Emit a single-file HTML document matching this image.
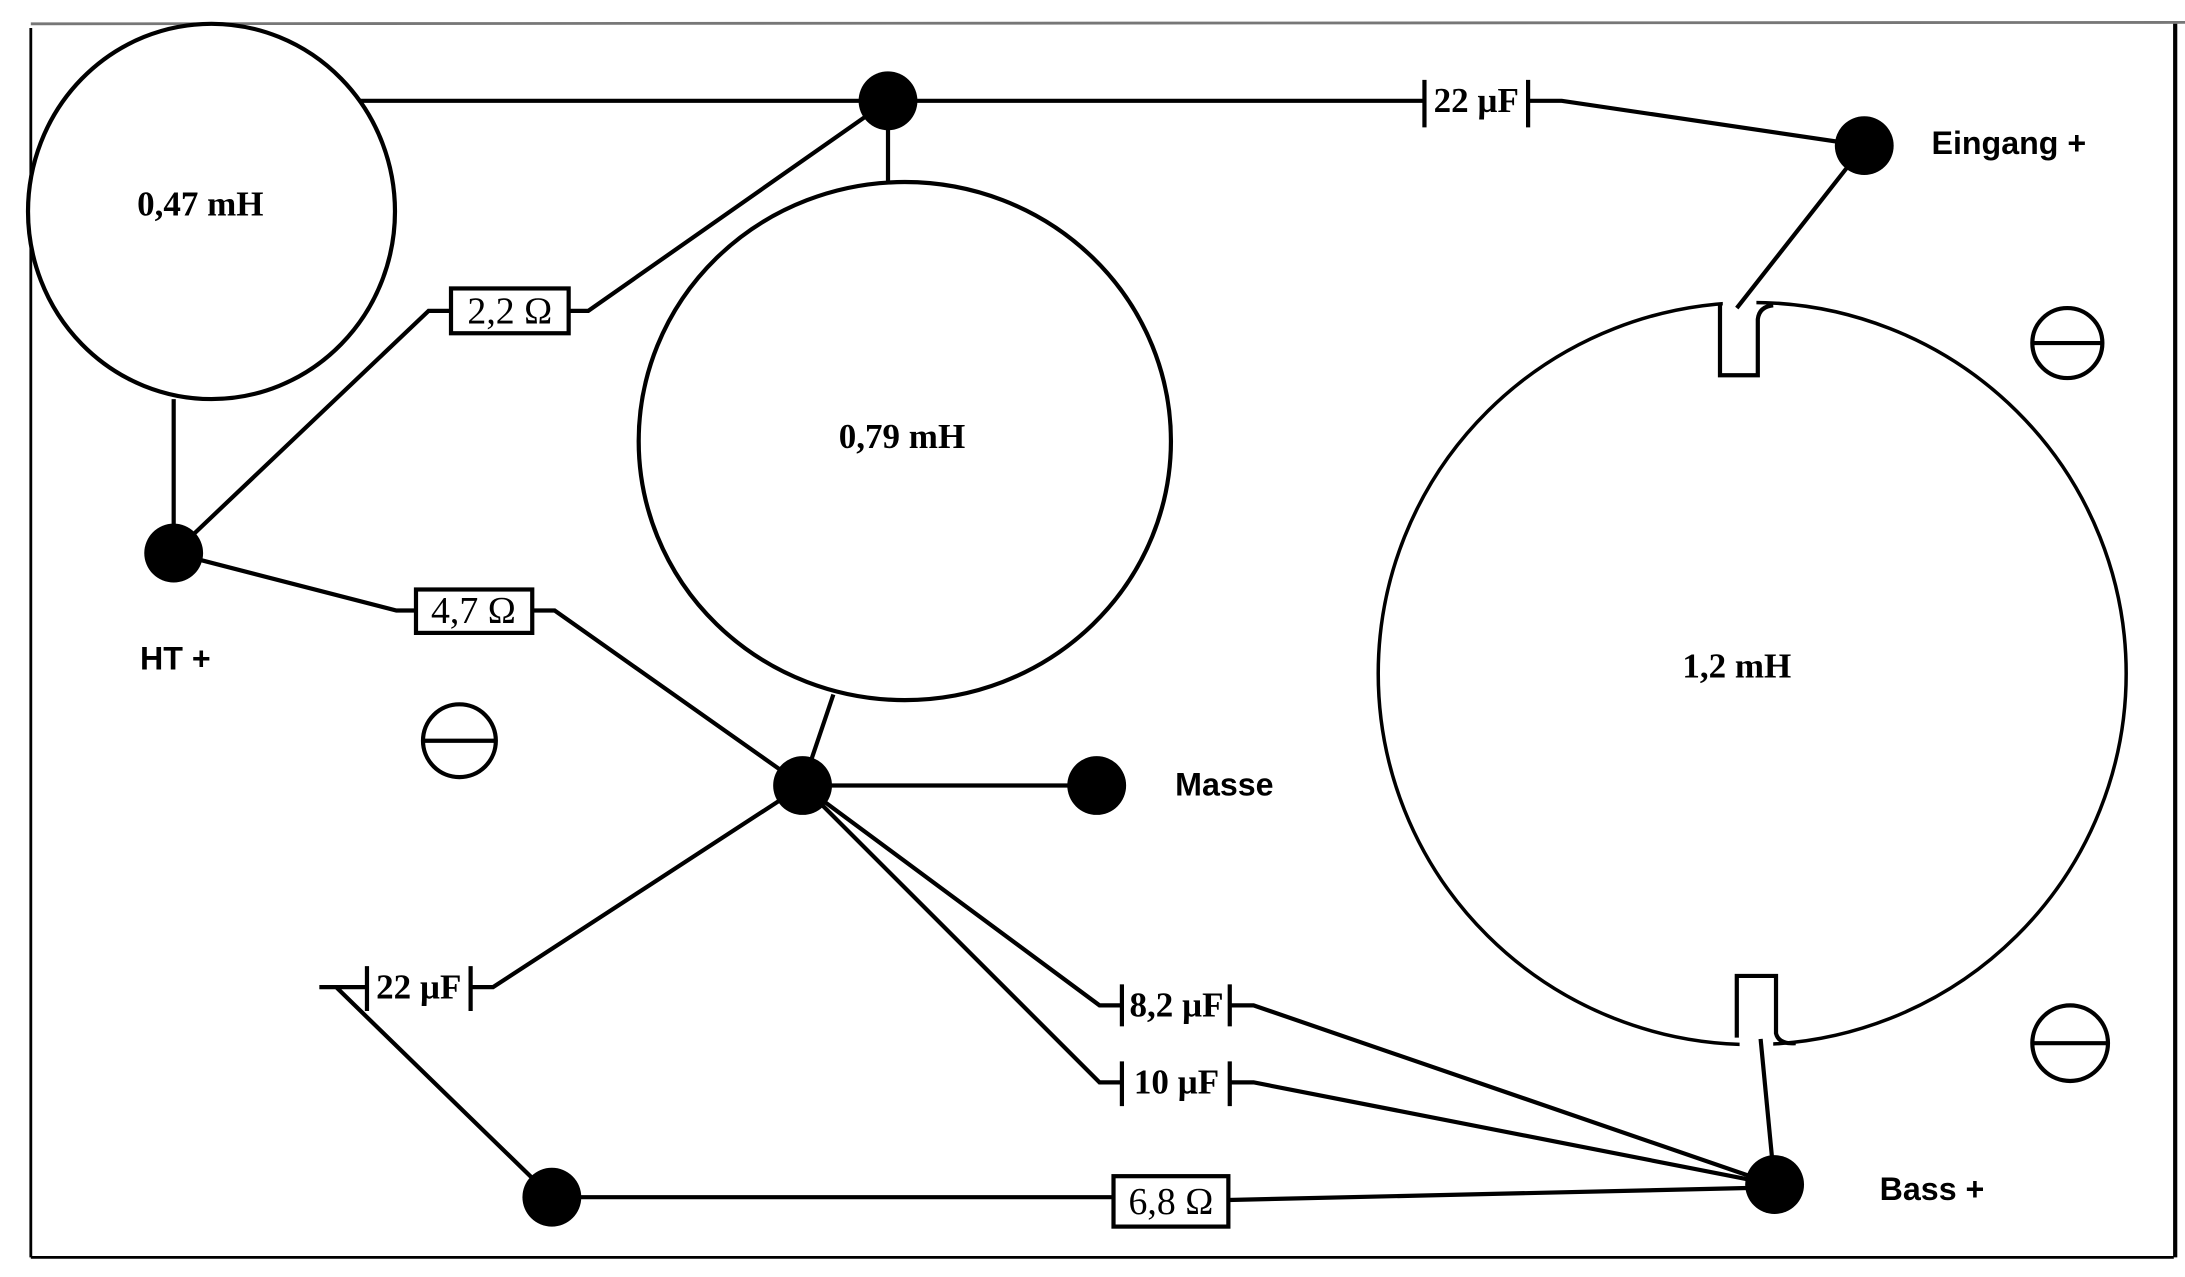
<!DOCTYPE html>
<html><head><meta charset="utf-8"><style>html,body{margin:0;padding:0;background:#fff}svg{display:block}</style></head>
<body>
<svg width="2185" height="1277" viewBox="0 0 1560 912" preserveAspectRatio="none" xmlns="http://www.w3.org/2000/svg">
<rect width="1560" height="912" fill="#fff"/>
<g stroke="#000" stroke-width="3" fill="none">
<line x1="22" y1="17" x2="1560" y2="16" stroke="#777" stroke-width="2"/>
<line x1="22" y1="20" x2="22" y2="898" stroke-width="2"/>
<line x1="22" y1="898" x2="1552" y2="898" stroke-width="2"/>
<line x1="1553" y1="17" x2="1553" y2="898"/>
<ellipse cx="151" cy="151" rx="131" ry="134" fill="#fff"/>
<line x1="256" y1="72" x2="1017" y2="72"/>
<line x1="1017" y1="57" x2="1017" y2="91"/>
<line x1="1091" y1="57" x2="1091" y2="91"/>
<polyline points="1091,72 1115,72 1331,104"/>
<line x1="634" y1="72" x2="634" y2="130"/>
<ellipse cx="646" cy="315" rx="190" ry="185"/>
<polyline points="634,72 420,222 406,222"/>
<rect x="322" y="206" width="84" height="32"/>
<polyline points="322,222 306,222 124,395"/>
<line x1="124" y1="285" x2="124" y2="395"/>
<polyline points="124,395 283,436 297,436"/>
<rect x="297" y="421" width="83" height="31"/>
<polyline points="380,436 396,436 573,561"/>
<line x1="573" y1="561" x2="595" y2="496"/>
<line x1="573" y1="561" x2="783" y2="561"/>
<polyline points="573,561 352,705 336,705"/>
<line x1="336" y1="690" x2="336" y2="722"/>
<line x1="262" y1="690" x2="262" y2="722"/>
<polyline points="262,705 228,705 240,705 394,855"/>
<polyline points="573,561 785,718 801,718"/>
<line x1="801" y1="703" x2="801" y2="733"/>
<line x1="878" y1="703" x2="878" y2="733"/>
<polyline points="878,718 895,718 1267,846"/>
<polyline points="573,561 785,773 801,773"/>
<line x1="801" y1="758" x2="801" y2="790"/>
<line x1="878" y1="758" x2="878" y2="790"/>
<polyline points="878,773 895,773 1267,846"/>
<polyline points="394,855 795,855"/>
<rect x="795" y="840" width="82" height="36"/>
<polyline points="877,857 1267,848"/>
<ellipse cx="1251" cy="481" rx="267" ry="265" stroke-width="2.5"/>
<ellipse cx="328" cy="529" rx="26" ry="26"/><line x1="302" y1="529" x2="354" y2="529"/>
<ellipse cx="1476" cy="245" rx="25" ry="25"/><line x1="1451" y1="245" x2="1501" y2="245"/>
<ellipse cx="1478" cy="745" rx="27" ry="27"/><line x1="1451" y1="745" x2="1505" y2="745"/>
</g>
<rect x="1230" y="205" width="24" height="20" fill="#fff"/>
<rect x="1242" y="735" width="24" height="20" fill="#fff"/>
<g stroke="#000" stroke-width="3" fill="none">
<path d="M1228,217 L1228,268 L1255,268 L1255,228 Q1256,219 1266,218"/>
<path d="M1240,741 L1240,697 L1268,697 L1268,738 Q1270,746 1282,745"/>
<line x1="1331" y1="104" x2="1240" y2="220"/>
<line x1="1267" y1="846" x2="1257" y2="742"/>
</g>
<g fill="#000">
<circle cx="634" cy="72" r="21"/>
<circle cx="1331" cy="104" r="21"/>
<circle cx="124" cy="395" r="21"/>
<circle cx="573" cy="561" r="21"/>
<circle cx="783" cy="561" r="21"/>
<circle cx="394" cy="855" r="21"/>
<circle cx="1267" cy="846" r="21"/>
</g>
<g font-family="Liberation Serif, serif" font-weight="bold" font-size="25" text-anchor="middle" fill="#000">
<text x="143" y="154">0,47 mH</text>
<text x="644" y="320">0,79 mH</text>
<text x="1240" y="484">1,2 mH</text>
<text x="1054" y="80">22 µF</text>
<text x="299" y="713">22 µF</text>
<text x="840" y="726">8,2 µF</text>
<text x="840" y="781">10 µF</text>
</g>
<g font-family="Liberation Serif, serif" font-size="27" text-anchor="middle" fill="#000">
<text x="364" y="231">2,2 Ω</text>
<text x="338" y="445">4,7 Ω</text>
<text x="836" y="867">6,8 Ω</text>
</g>
<g font-family="Liberation Sans, sans-serif" font-weight="bold" font-size="23" fill="#000">
<text x="1379" y="110">Eingang +</text>
<text x="100" y="478">HT +</text>
<text x="839" y="568">Masse</text>
<text x="1342" y="857">Bass +</text>
</g>
</svg>
</body></html>
